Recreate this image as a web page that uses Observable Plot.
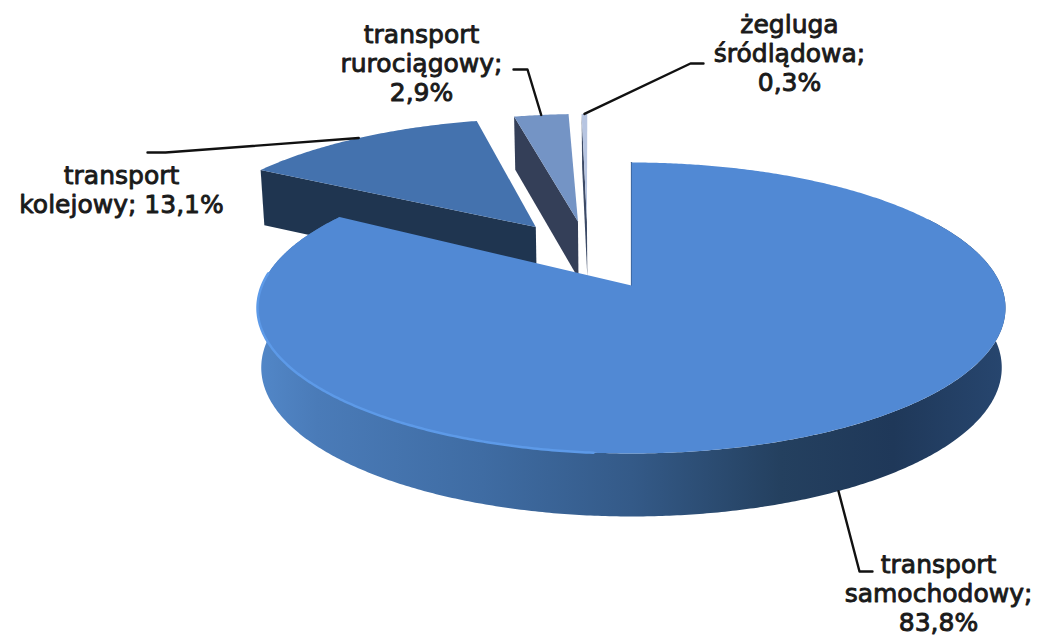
<!DOCTYPE html>
<html lang="pl">
<head>
<meta charset="utf-8">
<style>
  html, body { margin: 0; padding: 0; background: #fff; }
</style>
<script src="https://cdn.jsdelivr.net/npm/d3@7"></script>
<script src="https://cdn.jsdelivr.net/npm/@observablehq/plot@0.6"></script>
</head>
<body>
<div id="chart"></div>
<script>
// Udział gałęzi transportu w przewozach ładunków (%)
const categories = ["transport samochodowy", "transport kolejowy", "transport rurociągowy", "żegluga śródlądowa"];
const shares = [83.8, 13.1, 2.9, 0.3];
const labelTexts = ["transport\nsamochodowy;\n83,8%", "transport\nkolejowy; 13,1%", "transport\nrurociągowy;\n2,9%", "żegluga\nśródlądowa;\n0,3%"];

// Slice colours: top face, cut face
const topColors = ["#5189d4", "#4472ae", "#7494c5", "#b7c5e1"];
const cutColors = ["#1f3a5c", "#1f3550", "#343f58", "#3c4a66"];

// Label placement and leader elbows, in chart pixels
const labelAt = [[938, 592], [121, 189], [421, 62], [789, 52]];
const leaderBends = [
  [[859, 571], [872, 571]],
  [[165, 152], [147, 152]],
  [[527, 69], [513, 69]],
  [[690, 63], [703, 63]]
];

// Perspective model of the disc
const origin = {x: 631, y: 285};
const radiusX = 369.5, radiusY = 142, perspective = 0.1546, explode = 0.26;
const sliceTilt = [0, -2, -2, -1];

const toRad = (d) => (d * Math.PI) / 180;
const total = d3.sum(shares);
let running = 0;
const slices = shares.map((s, i) => {
  const start = (running / total) * 360;
  running += s;
  const end = (running / total) * 360;
  return {i, start, end, mid: (start + end) / 2};
});
const refMid = toRad(slices[0].mid);
slices.forEach((s) => {
  const m = toRad(s.mid);
  s.ou = explode * (Math.sin(m) - Math.sin(refMid));
  s.ov = explode * (Math.cos(m) - Math.cos(refMid));
});

function project(u, v) {
  const w = 1 + perspective * v;
  return {x: origin.x + (radiusX * u) / w, y: origin.y - (radiusY * v) / w, v};
}
// The lower face sits below the upper one and is drawn slightly narrower
function lower(p) {
  return {x: origin.x + (p.x - origin.x) * 0.99, y: p.y + 59 - 4 * p.v};
}
const apex = (s) => project(s.ou, s.ov);
function rimPoint(s, deg) {
  const a = toRad(deg + sliceTilt[s.i]);
  return project(s.ou + Math.sin(a), s.ov + Math.cos(a));
}
function arc(s, from, to) {
  const n = Math.max(2, Math.ceil(Math.abs(to - from) / 0.5));
  return d3.range(n + 1).map((k) => rimPoint(s, from + ((to - from) * k) / n));
}
const topFace = (s) => [apex(s), ...arc(s, s.start, s.end)];
const cutFace = (s) => {
  const corner = rimPoint(s, s.start);
  return [corner, apex(s), lower(apex(s)), lower(corner)];
};

const face = (pts, fill) => Plot.line(pts, {x: "x", y: "y", fill, stroke: "none", curve: "linear"});

const [road, rail, pipe, water] = slices;
const roadWallTop = arc(road, 60, road.end);
const roadWall = [...roadWallTop, ...roadWallTop.map(lower).reverse()];

// Leaders start on the outer rim at each slice's mid-angle
const leaders = slices.map((s, i) => {
  const rim = rimPoint(s, s.mid);
  const start = i === 0 ? lower(rim) : rim;
  return [start, ...leaderBends[i].map(([x, y]) => ({x, y}))];
});

const labels = labelTexts.map((text, i) => ({text, category: categories[i], x: labelAt[i][0], y: labelAt[i][1]}));

function wallGradient() {
  const defs = d3.create("svg:defs");
  const g = defs.append("linearGradient").attr("id", "roadWall").attr("x1", 0).attr("x2", 1).attr("y1", 0).attr("y2", 0);
  [[0, "#5287c8"], [0.08, "#4a7bb8"], [0.3, "#3f6ca3"], [0.5, "#345a88"], [0.7, "#24405f"], [0.85, "#1f3859"], [1, "#27466f"]]
    .forEach(([o, c]) => g.append("stop").attr("offset", o).attr("stop-color", c));
  return defs.node();
}

const chart = Plot.plot({
  width: 1040,
  height: 635,
  margin: 0,
  x: {domain: [0, 1040], axis: null},
  y: {domain: [635, 0], axis: null},
  style: {background: "#fff"},
  marks: [
    wallGradient,
    // Raised slices at the back
    face(cutFace(rail), cutColors[1]),
    face(topFace(rail), topColors[1]),
    face(cutFace(pipe), cutColors[2]),
    face(topFace(pipe), topColors[2]),
    face(cutFace(water), cutColors[3]),
    face(topFace(water), topColors[3]),
    // Largest slice in front
    Plot.line([apex(road), rimPoint(road, 0)], {x: "x", y: "y", stroke: "#2a4a78", strokeWidth: 1.2}),
    face(roadWall, "url(#roadWall)"),
    face(topFace(road), topColors[0]),
    Plot.line(arc(road, 185, 275), {x: "x", y: "y", stroke: "#5d9ae8", strokeWidth: 2.5, curve: "linear"}),
    // Leaders and labels
    ...leaders.map((pts) => Plot.line(pts, {x: "x", y: "y", stroke: "#111", strokeWidth: 2.4, curve: "linear"})),
    Plot.text(labels, {
      x: "x",
      y: "y",
      text: "text",
      lineAnchor: "middle",
      lineHeight: 1.17,
      fontSize: 25,
      fontFamily: "'DejaVu Sans', sans-serif",
      fill: "#1a1a1a",
      stroke: "#1a1a1a",
      strokeWidth: 0.9
    })
  ]
});
document.getElementById("chart").appendChild(chart);
</script>
</body>
</html>
